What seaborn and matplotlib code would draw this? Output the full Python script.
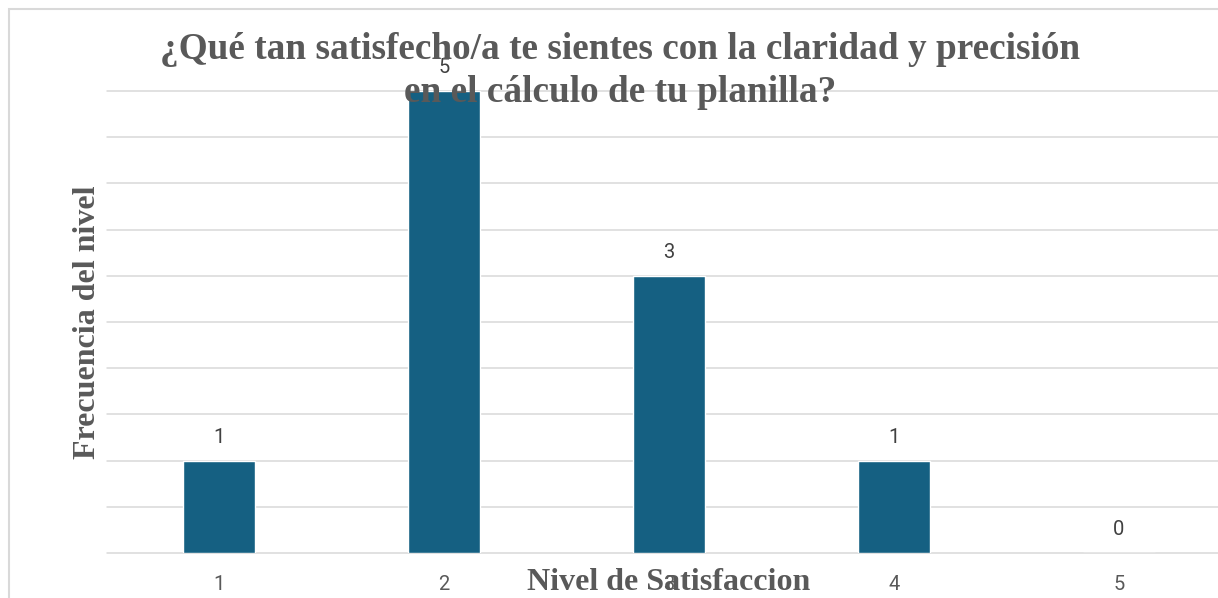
import matplotlib
matplotlib.use("Agg")
import matplotlib.pyplot as plt
import seaborn as sns
import numpy as np
import pandas as pd
from matplotlib.patches import Rectangle

categories = ["1", "2", "3", "4", "5"]
values = [1, 5, 3, 1, 0]
title = "¿Qué tan satisfecho/a te sientes con la claridad y precisión\nen el cálculo de tu planilla?"
xlabel = "Nivel de Satisfaccion"
ylabel = "Frecuencia del nivel"

sns.set_theme(style="white")
plt.rcParams['font.family'] = ['Roboto', 'DejaVu Sans']

W, H = 1218, 598
fig = plt.figure(figsize=(W / 100, H / 100), dpi=100)
fig.patch.set_facecolor("white")

# outer chart border (extends beyond the cropped image)
fig.patches.append(Rectangle((9 / W, -0.1), 1.2, (H - 9) / H + 0.1, transform=fig.transFigure,
                             fill=False, edgecolor="#D9D9D9", linewidth=1.5, figure=fig))

ax = fig.add_axes([106.5 / W, 45 / H, 1125 / W, 462 / H])
df = pd.DataFrame({"nivel": categories, "freq": values})
sns.barplot(data=df, x="nivel", y="freq", order=categories, color="#156082",
            saturation=1, width=0.318, ax=ax, zorder=2)
ax.set_xlim(-0.5, 4.5)
ax.set_ylim(0, 5)
ax.set_yticks(np.arange(0, 5.01, 0.5))
ax.set_yticklabels([])
ax.set_axisbelow(True)
ax.grid(axis="y", color="#D9D9D9", linewidth=1.1)
ax.grid(axis="x", visible=False)
for gl in ax.get_ygridlines():
    gl.set_clip_on(False)
for s in ax.spines.values():
    s.set_visible(False)
ax.tick_params(axis="both", length=0)
ax.tick_params(axis="x", labelsize=14.5, labelcolor="#595959", pad=16)
ax.set_xlabel("")
ax.set_ylabel("")

for cont in ax.containers:
    ax.bar_label(cont, labels=[str(v) for v in values], padding=10, fontsize=14.5, color="#404040")

fig.text(620 / W, 1 - 71 / H, title, ha="center", va="center", multialignment="center",
         fontsize=26.8, fontweight="bold", color="#595959", family="Liberation Serif",
         linespacing=1.26)
fig.text(669 / W, 1 - 582 / H, xlabel, ha="center", va="center", fontsize=23,
         fontweight="bold", color="#595959", family="Liberation Serif")
fig.text(88 / W, 1 - 322 / H, ylabel, ha="center", va="center", rotation=90, fontsize=23,
         fontweight="bold", color="#595959", family="Liberation Serif")

fig.savefig("out.png", dpi=100)
